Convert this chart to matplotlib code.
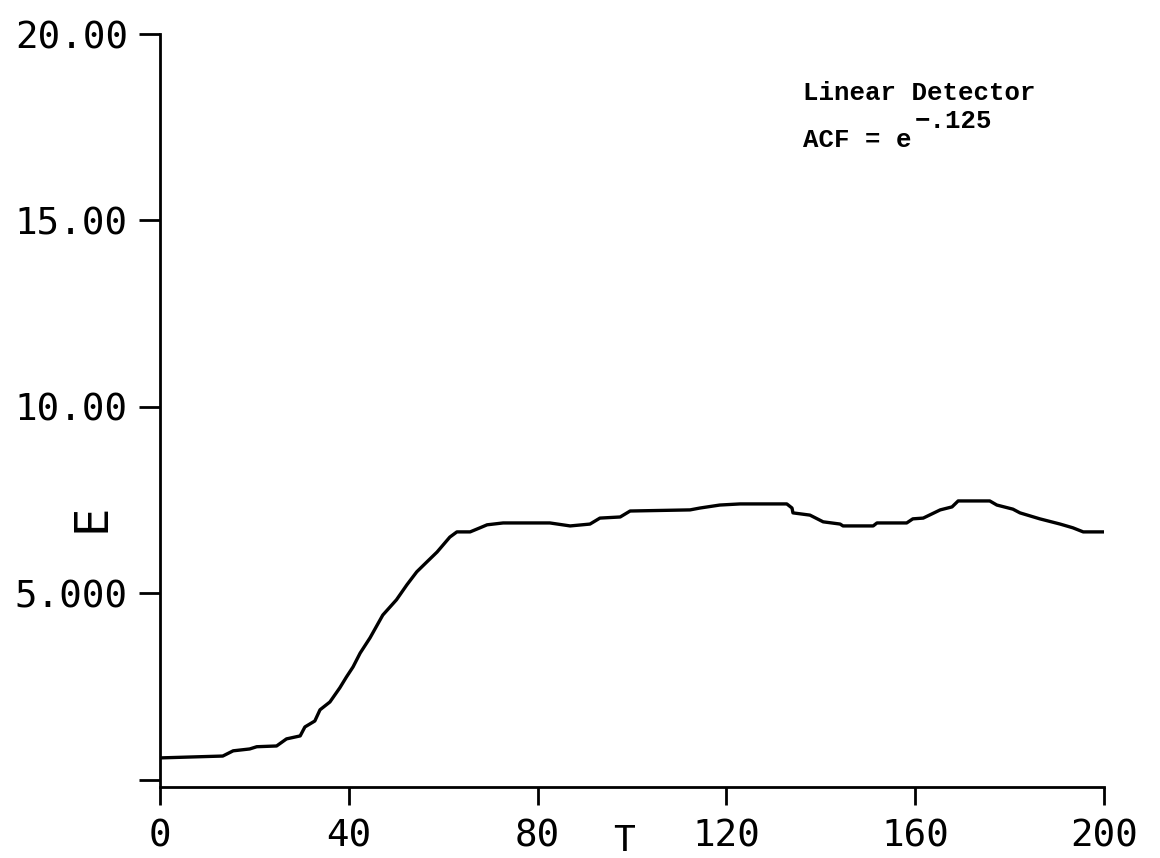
import numpy as np
import matplotlib
matplotlib.use("Agg")
import matplotlib.pyplot as plt

# curve (T, E)
t_vals = [0, 13.3, 15.5, 19, 20.5, 24.7, 26.8, 29.7, 30.7, 32.8, 33.9, 36, 38.1, 39.5,
          40.9, 42.4, 44.5, 47.2, 50.1, 52.3, 54.4, 56.5, 58.7, 61.4, 62.9, 65.7, 67.8,
          69.3, 72.7, 82.6, 86.9, 91.1, 93.2, 97.5, 99.6, 112.3, 114.4, 118.6, 122.9,
          132.8, 133.9, 134.1, 137.7, 140.5, 144.1, 144.7, 151.1, 151.9, 158.2, 159.5,
          161.7, 165.3, 167.8, 169.1, 175.8, 177.3, 180.7, 182.2, 186.4, 190.7, 193.4,
          195.6, 200]
e_vals = [0.59, 0.64, 0.78, 0.83, 0.89, 0.91, 1.10, 1.18, 1.42, 1.58, 1.88, 2.09, 2.47,
          2.76, 3.03, 3.40, 3.81, 4.42, 4.83, 5.23, 5.58, 5.84, 6.11, 6.51, 6.65, 6.65,
          6.76, 6.84, 6.89, 6.89, 6.81, 6.86, 7.02, 7.05, 7.21, 7.24, 7.29, 7.37, 7.40,
          7.40, 7.29, 7.16, 7.10, 6.92, 6.86, 6.81, 6.81, 6.89, 6.89, 7.0, 7.02, 7.24,
          7.32, 7.48, 7.48, 7.37, 7.26, 7.16, 7.0, 6.86, 6.76, 6.65, 6.65]

x_ticks = [0, 40, 80, 120, 160, 200]
x_ticklabels = ["0", "40", "80", "120", "160", "200"]
y_ticks = [0, 5, 10, 15, 20]
y_ticklabels = ["", "5.000", "10.00", "15.00", "20.00"]

tick_font = "DejaVu Sans Mono"
note_font = ["Liberation Mono", "DejaVu Sans Mono"]

fig = plt.figure(figsize=(11.6, 8.58), dpi=100)
ax = fig.add_axes([160 / 1160, 71 / 858, 944 / 1160, 753 / 858])

ax.plot(t_vals, e_vals, color="black", lw=2.4)

ax.set_xlim(0, 200)
ax.set_ylim(-0.19, 20)
for side in ["top", "right"]:
    ax.spines[side].set_visible(False)
for side in ["left", "bottom"]:
    ax.spines[side].set_linewidth(2)

ax.set_xticks(x_ticks)
ax.set_xticklabels(x_ticklabels, fontfamily=tick_font, fontsize=27)
ax.set_yticks(y_ticks)
ax.set_yticklabels(y_ticklabels, fontfamily=tick_font, fontsize=27)
ax.tick_params(axis="x", direction="out", length=13, width=2, pad=10)
ax.tick_params(axis="y", direction="out", length=15, width=2, pad=8)

# axis letters
fig.text(624 / 1160, (858 - 851) / 858, "T", fontfamily=tick_font, fontsize=26,
         ha="center", va="baseline")
fig.text(92 / 1160, (858 - 518) / 858, "E", fontfamily=tick_font, fontsize=34,
         ha="center", va="center", rotation=90)

# note in upper right
ax.text(136.2, 18.23, "Linear Detector", fontfamily=note_font, fontsize=18.5,
        fontweight="bold", va="baseline", ha="left")
ax.text(136.2, 16.97, "ACF = e", fontfamily=note_font, fontsize=18.5,
        fontweight="bold", va="baseline", ha="left")
ax.text(160.0, 17.48, "\u2212.125", fontfamily=note_font, fontsize=18.5,
        fontweight="bold", va="baseline", ha="left")

fig.savefig("out.png", dpi=100)
